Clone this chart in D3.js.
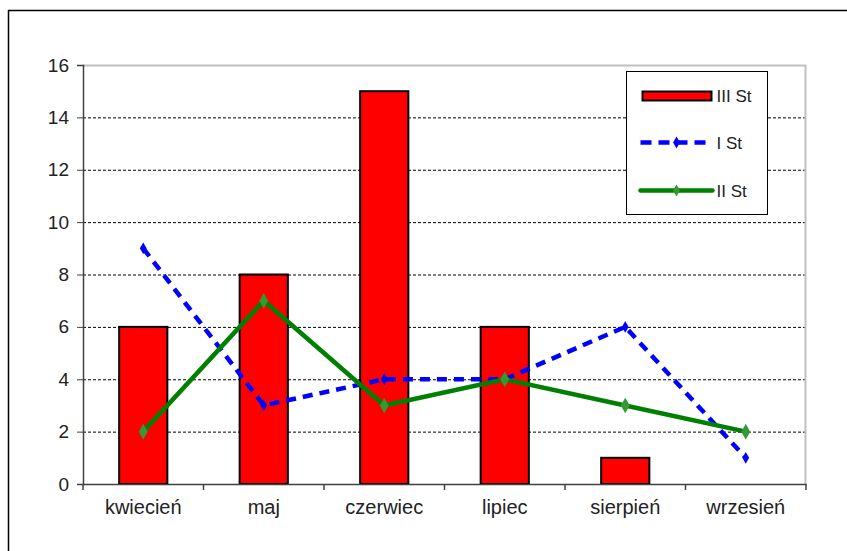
<!DOCTYPE html>
<html>
<head>
<meta charset="utf-8">
<script src="https://cdn.jsdelivr.net/npm/d3@7"></script>
<style>
  body { margin: 0; background: #fff; }
  text { font-family: "Liberation Sans", Arial, sans-serif; fill: #222; }
</style>
</head>
<body>
<svg id="chart" width="847" height="551"></svg>
<script>
const months = ['kwiecień', 'maj', 'czerwiec', 'lipiec', 'sierpień', 'wrzesień'];
const stIII = [6, 8, 15, 6, 1, 0];
const stI = [9, 3, 4, 4, 6, 1];
const stII = [2, 7, 3, 4, 3, 2];
const yTicks = [0, 2, 4, 6, 8, 10, 12, 14, 16];

const svg = d3.select('#chart');
const margin = { top: 65, right: 41, bottom: 67, left: 83 };
const width = +svg.attr('width') - margin.left - margin.right;
const height = +svg.attr('height') - margin.top - margin.bottom;

// outer frame
svg.append('rect')
  .attr('x', 8.5).attr('y', 10.5)
  .attr('width', 860).attr('height', 600)
  .attr('fill', 'none').attr('stroke', '#000').attr('stroke-width', 1.5);

const g = svg.append('g')
  .attr('transform', 'translate(' + margin.left + ',' + margin.top + ')');

const x = d3.scaleBand().domain(months).range([0, width]);
const y = d3.scaleLinear().domain([0, 16]).range([height, 0]);
const cx = i => x(months[i]) + x.bandwidth() / 2;

// gridlines
g.selectAll('.grid')
  .data(yTicks.filter(d => d > 0 && d < 16))
  .enter().append('line')
  .attr('x1', 0).attr('x2', width)
  .attr('y1', d => y(d) + 0.5).attr('y2', d => y(d) + 0.5)
  .attr('stroke', '#000').attr('stroke-dasharray', '3,2').attr('stroke-width', 1);

// plot border top/right
g.append('path')
  .attr('d', 'M0,' + (y(16) + 0.5) + 'H' + (width - 0.5) + 'V' + height)
  .attr('fill', 'none').attr('stroke', '#c0c0c0').attr('stroke-width', 2);

// bars
const bw = x.bandwidth() * 0.4;
g.selectAll('.bar')
  .data(stIII.map((v, i) => ({ m: months[i], v: v })).filter(d => d.v > 0))
  .enter().append('rect')
  .attr('x', d => x(d.m) + (x.bandwidth() - bw) / 2)
  .attr('y', d => y(d.v))
  .attr('width', bw)
  .attr('height', d => height - y(d.v))
  .attr('fill', '#ff0000').attr('stroke', '#000').attr('stroke-width', 2);

// axes
const yAxis = g.append('g')
  .call(d3.axisLeft(y).tickValues(yTicks).tickSize(6).tickPadding(8));
yAxis.select('.domain').attr('stroke', '#404040').attr('stroke-width', 1.5);
yAxis.selectAll('.tick line').attr('stroke', '#404040');
yAxis.selectAll('text').style('font-size', '19px').style('font-family', '"Liberation Sans", Arial, sans-serif').attr('fill', '#222');

const xAxis = g.append('g')
  .attr('transform', 'translate(0,' + height + ')')
  .call(d3.axisBottom(x).tickSize(0).tickPadding(16));
xAxis.select('.domain').attr('stroke', '#404040').attr('stroke-width', 1.5);
xAxis.selectAll('text').style('font-size', '20px').style('font-family', '"Liberation Sans", Arial, sans-serif').attr('fill', '#222');

// category boundary ticks
g.append('g')
  .selectAll('line')
  .data(d3.range(months.length + 1))
  .enter().append('line')
  .attr('x1', i => i * x.step()).attr('x2', i => i * x.step())
  .attr('y1', height).attr('y2', height + 6)
  .attr('stroke', '#404040').attr('stroke-width', 1.5);

const line = d3.line()
  .x((d, i) => cx(i))
  .y(d => y(d));

// I St (blue dashed)
g.append('path')
  .datum(stI)
  .attr('d', line)
  .attr('fill', 'none').attr('stroke', '#0000ff').attr('stroke-width', 4.5)
  .attr('stroke-dasharray', '10,7');
g.selectAll('.mI')
  .data(stI)
  .enter().append('path')
  .attr('transform', (d, i) => 'translate(' + cx(i) + ',' + y(d) + ')')
  .attr('d', d3.symbol().type(d3.symbolDiamond).size(40))
  .attr('fill', '#0000ff');

// II St (green)
g.append('path')
  .datum(stII)
  .attr('d', line)
  .attr('fill', 'none').attr('stroke', '#008000').attr('stroke-width', 4.5);
g.selectAll('.mII')
  .data(stII)
  .enter().append('path')
  .attr('transform', (d, i) => 'translate(' + cx(i) + ',' + y(d) + ')')
  .attr('d', d3.symbol().type(d3.symbolDiamond).size(70))
  .attr('fill', '#339933');

// legend
const lg = svg.append('g').attr('transform', 'translate(626.5,71.5)');
lg.append('rect')
  .attr('width', 141).attr('height', 143)
  .attr('fill', '#fff').attr('stroke', '#000').attr('stroke-width', 1);

lg.append('rect')
  .attr('x', 16).attr('y', 20).attr('width', 69).attr('height', 9)
  .attr('fill', '#ff0000').attr('stroke', '#000').attr('stroke-width', 2);
lg.append('text').attr('x', 90).attr('y', 30).style('font-size', '17px').text('III St');

lg.append('line')
  .attr('x1', 14).attr('x2', 86).attr('y1', 71).attr('y2', 71)
  .attr('stroke', '#0000ff').attr('stroke-width', 4.5).attr('stroke-dasharray', '11,7');
lg.append('path')
  .attr('transform', 'translate(50,71)')
  .attr('d', d3.symbol().type(d3.symbolDiamond).size(40))
  .attr('fill', '#0000ff');
lg.append('text').attr('x', 90).attr('y', 77).style('font-size', '17px').text('I St');

lg.append('line')
  .attr('x1', 14).attr('x2', 86).attr('y1', 119).attr('y2', 119)
  .attr('stroke', '#008000').attr('stroke-width', 4.5).attr('stroke-linecap', 'round');
lg.append('path')
  .attr('transform', 'translate(50,119)')
  .attr('d', d3.symbol().type(d3.symbolDiamond).size(40))
  .attr('fill', '#339933');
lg.append('text').attr('x', 90).attr('y', 125).style('font-size', '17px').text('II St');
</script>
</body>
</html>
